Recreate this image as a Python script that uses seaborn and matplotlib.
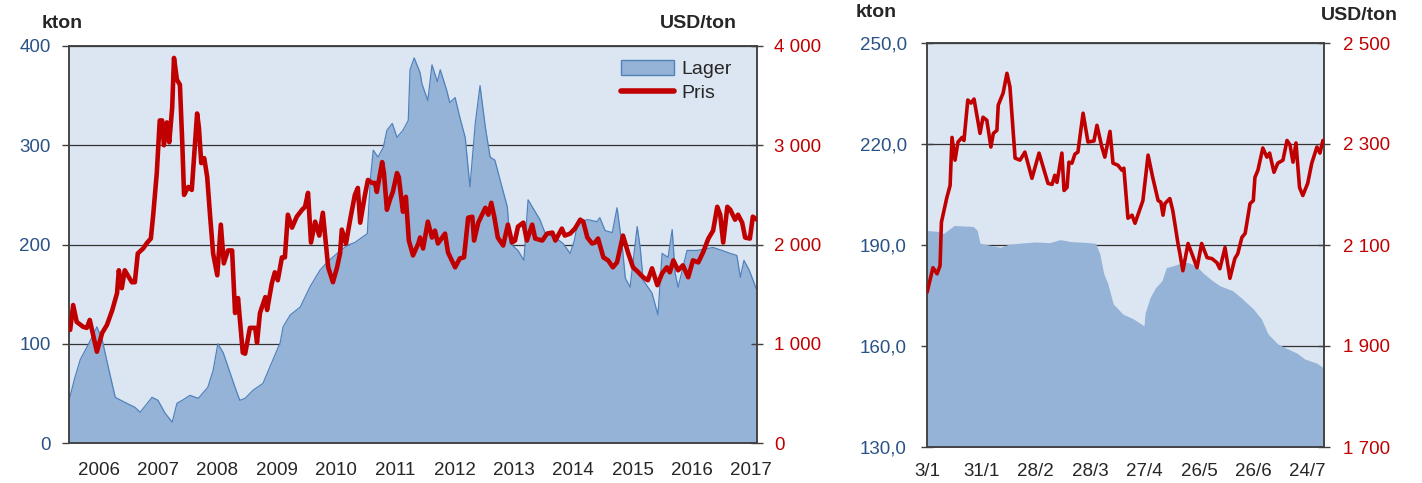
import numpy as np
import matplotlib
matplotlib.use("Agg")
import matplotlib.pyplot as plt
from matplotlib.patches import Patch
from matplotlib.lines import Line2D
from matplotlib.ticker import FuncFormatter, NullFormatter
import seaborn as sns

# ---- left panel: 2006-2017 ----
lager_t = [2006.00, 2006.10, 2006.19, 2006.35, 2006.47, 2006.56, 2006.66, 2006.78, 2006.94,
           2007.11, 2007.20, 2007.40, 2007.50, 2007.62, 2007.74, 2007.82, 2007.91,
           2008.04, 2008.18, 2008.34, 2008.43, 2008.51, 2008.60, 2008.68, 2008.80, 2008.88, 2008.97,
           2009.10, 2009.27, 2009.39, 2009.56, 2009.61, 2009.73, 2009.90,
           2010.06, 2010.23, 2010.35, 2010.52, 2010.69, 2010.82,
           2011.03, 2011.08, 2011.13, 2011.21, 2011.30, 2011.36, 2011.45, 2011.53, 2011.63, 2011.72,
           2011.75, 2011.82, 2011.92, 2011.95,
           2012.05, 2012.12, 2012.21, 2012.26, 2012.37, 2012.42, 2012.51, 2012.59, 2012.68, 2012.76,
           2012.85, 2012.93,
           2013.02, 2013.10, 2013.18, 2013.30, 2013.39, 2013.44, 2013.57, 2013.67, 2013.74, 2013.86, 2013.94,
           2014.03, 2014.20, 2014.33, 2014.45, 2014.52, 2014.58, 2014.75, 2014.90, 2014.95,
           2015.04, 2015.16, 2015.24, 2015.33, 2015.38, 2015.46, 2015.58, 2015.63, 2015.68, 2015.83, 2015.93,
           2016.00, 2016.10, 2016.17, 2016.22, 2016.27, 2016.42, 2016.59, 2016.76, 2016.86,
           2017.01, 2017.15, 2017.26, 2017.32, 2017.38, 2017.47, 2017.59]
lager_v = [43, 66, 84, 102, 117, 104, 77, 46, 41,
           36, 31, 46, 43, 30, 21, 40, 43,
           48, 45, 56, 73, 100, 91, 77, 56, 43, 45,
           53, 60, 77, 101, 117, 129, 137,
           157, 174, 182, 191, 199, 202,
           211, 265, 295, 288, 298, 315, 322, 308, 315, 325,
           376, 388, 373, 362,
           345, 381, 364, 376, 355, 343, 348, 328, 308, 258,
           322, 360,
           318, 288, 285, 258, 238, 201, 194, 184, 245, 233, 225,
           211, 207, 201, 191, 204, 223, 225, 223, 227,
           214, 212, 237, 197, 166, 157, 218, 197, 164, 151, 129,
           191, 187, 215, 171, 157, 194, 194, 196, 197,
           194, 191, 189, 167, 184, 174, 155]

pris_t = [2006.02, 2006.07, 2006.13, 2006.24, 2006.30, 2006.35, 2006.47, 2006.56, 2006.64, 2006.73,
          2006.81, 2006.84, 2006.89, 2006.94, 2007.06, 2007.11, 2007.16, 2007.25, 2007.32, 2007.38,
          2007.42, 2007.48, 2007.53, 2007.57, 2007.60, 2007.65, 2007.69, 2007.74, 2007.77, 2007.82,
          2007.87, 2007.91, 2007.94, 2008.01, 2008.07, 2008.12, 2008.16, 2008.19, 2008.23, 2008.28,
          2008.33, 2008.38, 2008.43, 2008.50, 2008.56, 2008.61, 2008.68, 2008.75, 2008.80, 2008.85,
          2008.93, 2008.97, 2009.05, 2009.14, 2009.17, 2009.22, 2009.31, 2009.34, 2009.42, 2009.47,
          2009.52, 2009.59, 2009.64, 2009.69, 2009.76, 2009.84, 2009.93, 2009.98, 2010.03, 2010.08,
          2010.15, 2010.22, 2010.28, 2010.37, 2010.45, 2010.52, 2010.57, 2010.60, 2010.67, 2010.74,
          2010.82, 2010.87, 2010.91, 2010.99, 2011.04, 2011.11, 2011.16, 2011.19, 2011.28, 2011.31,
          2011.36, 2011.41, 2011.46, 2011.53, 2011.56, 2011.63, 2011.68, 2011.73, 2011.80, 2011.89,
          2011.92, 2011.97, 2012.05, 2012.12, 2012.17, 2012.22, 2012.34, 2012.39, 2012.51, 2012.59,
          2012.66, 2012.73, 2012.80, 2012.83, 2012.90, 2013.02, 2013.07, 2013.12, 2013.17, 2013.23,
          2013.32, 2013.40, 2013.47, 2013.52, 2013.57, 2013.66, 2013.72, 2013.81, 2013.86, 2013.98,
          2014.06, 2014.15, 2014.20, 2014.31, 2014.36, 2014.45, 2014.53, 2014.62, 2014.67, 2014.74,
          2014.82, 2014.87, 2014.92, 2015.01, 2015.09, 2015.17, 2015.24, 2015.34, 2015.43, 2015.51,
          2015.60, 2015.68, 2015.76, 2015.83, 2015.92, 2016.00, 2016.08, 2016.13, 2016.19, 2016.27,
          2016.35, 2016.44, 2016.52, 2016.61, 2016.69, 2016.78, 2016.86, 2016.93, 2016.98, 2017.03,
          2017.10, 2017.15, 2017.23, 2017.28, 2017.35, 2017.40, 2017.48, 2017.53, 2017.60]
pris_v = [1140, 1390, 1220, 1170, 1160, 1240, 920, 1110, 1190, 1340,
          1510, 1740, 1560, 1740, 1620, 1620, 1910, 1960, 2020, 2060,
          2300, 2720, 3250, 3250, 3000, 3230, 3030, 3380, 3880, 3660,
          3610, 3020, 2500, 2580, 2550, 2980, 3320, 3180, 2820, 2870,
          2680, 2280, 1910, 1690, 2200, 1810, 1940, 1940, 1310, 1460,
          910, 900, 1160, 1160, 1010, 1310, 1470, 1340, 1610, 1720,
          1640, 1870, 1870, 2300, 2170, 2280, 2350, 2380, 2520, 2020,
          2230, 2090, 2320, 1770, 1620, 1770, 1910, 2150, 2010, 2250,
          2500, 2570, 2220, 2500, 2650, 2620, 2620, 2530, 2830, 2720,
          2350, 2450, 2530, 2720, 2680, 2330, 2480, 2040, 1890, 2010,
          2070, 1960, 2230, 2070, 2140, 2010, 2110, 1920, 1770, 1860,
          1870, 2270, 2280, 2040, 2220, 2370, 2300, 2420, 2280, 2070,
          1990, 2200, 2020, 2040, 2180, 2220, 2040, 2200, 2060, 2040,
          2110, 2120, 2040, 2160, 2090, 2110, 2160, 2250, 2230, 2070,
          2010, 2020, 2060, 1870, 1840, 1770, 1820, 2090, 1910, 1770,
          1720, 1670, 1640, 1760, 1590, 1710, 1770, 1720, 1840, 1740,
          1790, 1670, 1840, 1820, 1920, 2060, 2140, 2380, 2300, 2020,
          2380, 2350, 2250, 2300, 2220, 2070, 2060, 2280, 2250]

years = list(range(2006, 2018))
year_labels = [str(y) for y in years]
kton_ticks_l = [0, 100, 200, 300, 400]
pris_ticks_l = [0, 1000, 2000, 3000, 4000]

# ---- right panel: 2017, trading days from 3/1 ----
r_lager_d = [0, 4.8, 6, 10, 17, 18.5, 19.5, 24, 27, 30,
             35, 40, 45, 49, 53, 58, 62, 63.5, 65, 66.5,
             68.5, 72, 76, 79.8, 80.2, 82, 84, 86.4, 88, 90.4,
             93.7, 96, 99, 101.5, 105, 107.7, 112.5, 116, 120, 123,
             125.4, 129, 132, 136, 139, 143.4, 146]
r_lager_v = [194.3, 194.0, 193.4, 195.8, 195.5, 194.3, 190.5, 189.8, 189.3, 190.2,
             190.6, 190.9, 190.7, 191.6, 191.0, 190.8, 190.5, 187.5, 181.5, 178.5,
             172.5, 169.5, 168.0, 166.0, 169.8, 174.3, 177.3, 179.4, 183.3, 183.8,
             184.7, 184.8, 183.8, 181.7, 179.4, 177.9, 176.4, 174.0, 171.0, 168.0,
             163.6, 160.6, 159.4, 157.9, 156.1, 154.9, 153.4]
r_pris_d = [0, 2.2, 3.7, 4.8, 5.3, 7.3, 8.5, 9.2, 10.3, 11.4,
            12.9, 13.6, 15, 16.2, 17.3, 19.5, 20.6, 22, 23.5, 24.4,
            25.7, 26.2, 28, 29.4, 30.5, 32.4, 34.2, 36, 38.6, 41.2,
            44.5, 46, 47, 47.8, 49.6, 50.4, 51.5, 52.2, 53.3, 54.4,
            55.5, 57.4, 59.2, 61.4, 62.5, 64.3, 65.4, 67.3, 68.4, 70.2,
            71.7, 72.4, 73.9, 75.4, 76.5, 79.4, 81.3, 83, 85, 86,
            86.8, 87.5, 89.3, 90.4, 92.3, 93, 94.1, 96, 97.4, 99.3,
            101, 103, 104.8, 106.6, 107.7, 109.6, 111.4, 113.2, 114.3, 115.8,
            117, 118.8, 120, 120.6, 121.7, 123.5, 125, 126, 127.6, 129,
            130.9, 132.4, 133.5, 134.6, 135.7, 137, 138.2, 140, 141.5, 143.4,
            144.5, 145.6]
r_pris_v = [2006, 2055, 2043, 2059, 2145, 2194, 2218, 2313, 2268, 2304,
            2313, 2307, 2387, 2381, 2389, 2321, 2353, 2347, 2294, 2321,
            2327, 2377, 2401, 2440, 2413, 2272, 2268, 2284, 2232, 2282,
            2222, 2220, 2238, 2224, 2282, 2208, 2214, 2264, 2262, 2280,
            2284, 2361, 2304, 2306, 2337, 2294, 2274, 2325, 2262, 2258,
            2248, 2252, 2153, 2159, 2143, 2188, 2278, 2234, 2188, 2185,
            2159, 2182, 2192, 2168, 2103, 2083, 2049, 2103, 2083, 2055,
            2103, 2075, 2073, 2065, 2053, 2095, 2034, 2073, 2083, 2115,
            2123, 2182, 2188, 2234, 2248, 2292, 2274, 2282, 2244, 2262,
            2268, 2307, 2298, 2264, 2302, 2214, 2198, 2222, 2262, 2294,
            2282, 2307]
day_ticks = [0, 20, 40, 60, 80, 100, 120, 140]
day_labels = ['3/1', '31/1', '28/2', '28/3', '27/4', '26/5', '26/6', '24/7']
kton_ticks_r = [130, 160, 190, 220, 250]
pris_ticks_r = [1700, 1900, 2100, 2300, 2500]

BG = '#DCE6F2'
AREA = '#95B3D7'
EDGE = '#4F81BD'
RED = '#C00000'
BLUE_TXT = '#2A5286'
DARK = '#262626'
SPINE = '#404040'

sns.set_theme(style="white")
plt.rcParams['font.family'] = ['Liberation Sans', 'DejaVu Sans']

space_fmt = FuncFormatter(lambda v, p: f"{int(round(v)):,}".replace(",", " "))
comma_fmt = FuncFormatter(lambda v, p: f"{v:.1f}".replace(".", ","))

fig = plt.figure(figsize=(14.22, 4.83), dpi=100)


def style_axes(a, b):
    a.set_facecolor(BG)
    b.patch.set_visible(False)
    a.set_axisbelow(True)
    a.yaxis.grid(True, color='#333333', linewidth=0.9)
    a.xaxis.grid(False)
    for axx in (a, b):
        for s in axx.spines.values():
            s.set_color(SPINE)
            s.set_linewidth(1.1)
    a.set_xlabel('')
    a.set_ylabel('')
    b.set_ylabel('')


# left panel
ax = fig.add_axes([69 / 1422, 1 - 443 / 483, 688 / 1422, 397 / 483])
ax2 = ax.twinx()
ax.fill_between(lager_t, lager_v, 0, color=AREA, linewidth=0, zorder=1)
sns.lineplot(x=lager_t, y=lager_v, ax=ax, color=EDGE, linewidth=0.9, zorder=2)
sns.lineplot(x=pris_t, y=pris_v, ax=ax2, color=RED, linewidth=3.3, zorder=3)
style_axes(ax, ax2)

ax.set_xlim(2006, 2017.6)
ax.set_ylim(0, 400)
ax2.set_ylim(0, 4000)
ax.set_xticks(years)
ax.xaxis.set_major_formatter(NullFormatter())
ax.set_xticks([y + 0.5 for y in years], labels=year_labels, minor=True)
ax.tick_params(axis='x', which='major', direction='inout', length=9, width=1, color=SPINE)
ax.tick_params(axis='x', which='minor', length=0, pad=14, labelsize=13.5, labelcolor=DARK)
ax.set_yticks(kton_ticks_l)
ax.tick_params(axis='y', direction='out', length=5, width=1, color=SPINE, pad=8,
               labelsize=13.5, labelcolor=BLUE_TXT)
ax2.set_yticks(pris_ticks_l)
ax2.yaxis.set_major_formatter(space_fmt)
ax2.tick_params(axis='y', direction='inout', length=9, width=1, color=SPINE, pad=8,
                labelsize=13.5, labelcolor=RED)

handles = [Patch(facecolor=AREA, edgecolor=EDGE, linewidth=1),
           Line2D([], [], color=RED, linewidth=4)]
ax2.legend(handles, ['Lager', 'Pris'], loc='upper right', bbox_to_anchor=(0.975, 0.985),
           frameon=False, fontsize=14, handlelength=2.7, handleheight=0.8,
           handletextpad=0.4, labelspacing=0.3, borderaxespad=0)

# right panel
bx = fig.add_axes([927 / 1422, 1 - 447 / 483, 397 / 1422, 404 / 483])
bx2 = bx.twinx()
bx.fill_between(r_lager_d, r_lager_v, 130, color=AREA, linewidth=0, zorder=1)
sns.lineplot(x=r_pris_d, y=r_pris_v, ax=bx2, color=RED, linewidth=2.6, zorder=3)
style_axes(bx, bx2)

bx.set_xlim(0, 146)
bx.set_ylim(130, 250)
bx2.set_ylim(1700, 2500)
bx.set_xticks(day_ticks, labels=day_labels)
bx.tick_params(axis='x', direction='inout', length=9, width=1, color=SPINE, pad=7,
               labelsize=13.5, labelcolor=DARK)
bx.set_yticks(kton_ticks_r)
bx.yaxis.set_major_formatter(comma_fmt)
bx.tick_params(axis='y', direction='inout', length=9, width=1, color=SPINE, pad=10,
               labelsize=13.5, labelcolor=BLUE_TXT)
bx2.set_yticks(pris_ticks_r)
bx2.yaxis.set_major_formatter(space_fmt)
bx2.tick_params(axis='y', direction='inout', length=9, width=1, color=SPINE, pad=9,
                labelsize=13.5, labelcolor=RED)

# unit labels
unit_kw = dict(fontsize=14, fontweight='bold', color=DARK, va='baseline')
fig.text(42 / 1422, 1 - 28 / 483, 'kton', ha='left', **unit_kw)
fig.text(737 / 1422, 1 - 28 / 483, 'USD/ton', ha='right', **unit_kw)
fig.text(856 / 1422, 1 - 17 / 483, 'kton', ha='left', **unit_kw)
fig.text(1398 / 1422, 1 - 20 / 483, 'USD/ton', ha='right', **unit_kw)

fig.savefig('out.png', dpi=100)
